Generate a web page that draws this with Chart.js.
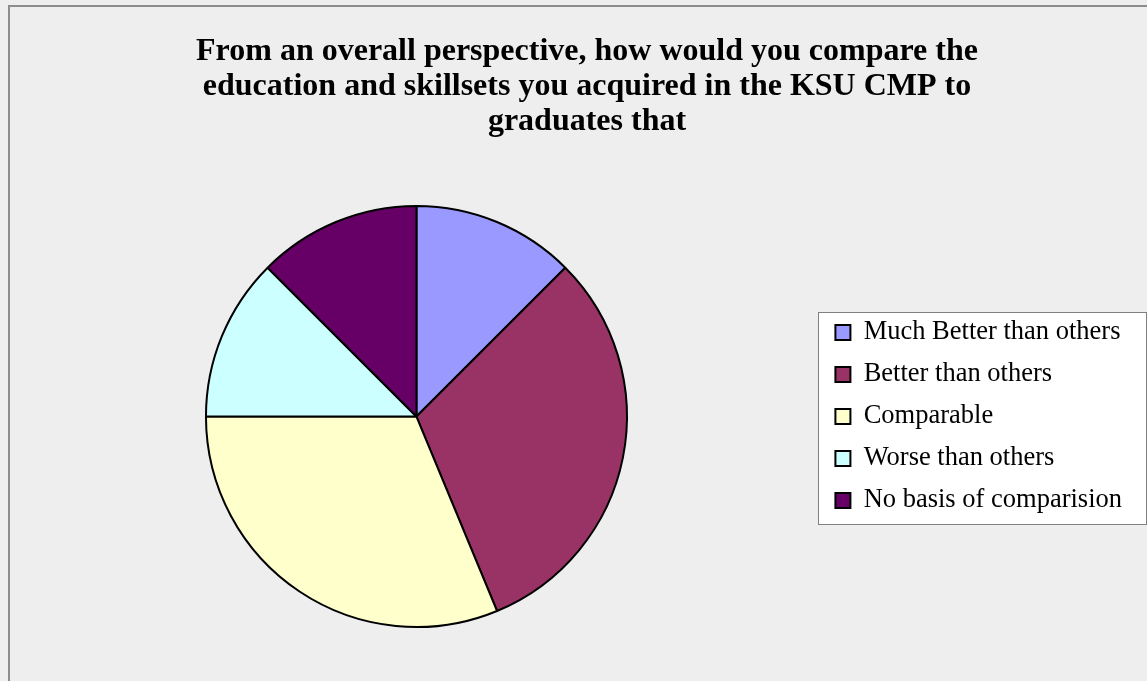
<!DOCTYPE html>
<html>
<head>
<meta charset="utf-8">
<title>KSU CMP survey</title>
<script src="https://cdn.jsdelivr.net/npm/chart.js@4.4.1/dist/chart.umd.min.js"></script>
<style>
  html, body { margin: 0; padding: 0; background: #eeeeee; overflow: hidden; }
  canvas { display: block; }
</style>
</head>
<body>
<canvas id="surveyChart" width="1147" height="681"></canvas>
<script>
const titleLines = [
    "From an overall perspective, how would you compare the",
    "education and skillsets you acquired in the KSU CMP to",
    "graduates that"
];
const categories = [
    "Much Better than others",
    "Better than others",
    "Comparable",
    "Worse than others",
    "No basis of comparision"
];
const responses = [2, 5, 5, 2, 2];
const sliceColors = ["#9999ff", "#993366", "#ffffcc", "#ccffff", "#660066"];

const serif = "'Liberation Serif', 'Times New Roman', serif";

// grey page, frame line on the left/top and the white box behind the legend
const framePlugin = {
    id: "frame",
    afterLayout(chart) {
        // the original frame starts at x=8 and runs past the right edge,
        // the title is centred on that frame rather than the padded area
        chart.titleBlock.left = 8;
        chart.titleBlock.right = chart.width + 19;
    },
    beforeDraw(chart) {
        const ctx = chart.ctx;
        ctx.save();
        ctx.fillStyle = "#eeeeee";
        ctx.fillRect(0, 0, chart.width, chart.height);

        ctx.strokeStyle = "#8c8c8c";
        ctx.lineWidth = 2;
        ctx.beginPath();
        ctx.moveTo(9, chart.height);
        ctx.lineTo(9, 6);
        ctx.lineTo(chart.width, 6);
        ctx.stroke();

        const legend = chart.legend;
        const boxes = legend.legendHitBoxes || [];
        if (boxes.length) {
            const last = boxes[boxes.length - 1];
            const top = Math.round(boxes[0].top - 7);
            const bottom = Math.round(last.top + last.height + 10);
            const left = Math.round(legend.left - 2);
            ctx.fillStyle = "#ffffff";
            ctx.fillRect(left, top, chart.width - left, bottom - top);
            ctx.strokeStyle = "#808080";
            ctx.lineWidth = 1;
            ctx.strokeRect(left + 0.5, top + 0.5, chart.width - left - 1, bottom - top);
        }
        ctx.restore();
    }
};

new Chart(document.getElementById("surveyChart"), {
    type: "pie",
    data: {
        labels: categories,
        datasets: [{
            data: responses,
            backgroundColor: sliceColors,
            borderColor: "#000000",
            borderWidth: 2
        }]
    },
    options: {
        responsive: false,
        animation: false,
        events: [],
        layout: {
            padding: { left: 13, right: 15, top: 0, bottom: 53 }
        },
        plugins: {
            title: {
                display: true,
                text: titleLines,
                color: "#000000",
                font: { family: serif, size: 32, weight: "bold", lineHeight: 1.094 },
                padding: { top: 34.5, bottom: 65.5 }
            },
            legend: {
                position: "right",
                fullSize: false,
                labels: {
                    color: "#000000",
                    font: { family: serif, size: 26.5 },
                    boxWidth: 15,
                    boxHeight: 15,
                    padding: 15.5
                }
            },
            tooltip: { enabled: false }
        }
    },
    plugins: [framePlugin]
});
</script>
</body>
</html>
